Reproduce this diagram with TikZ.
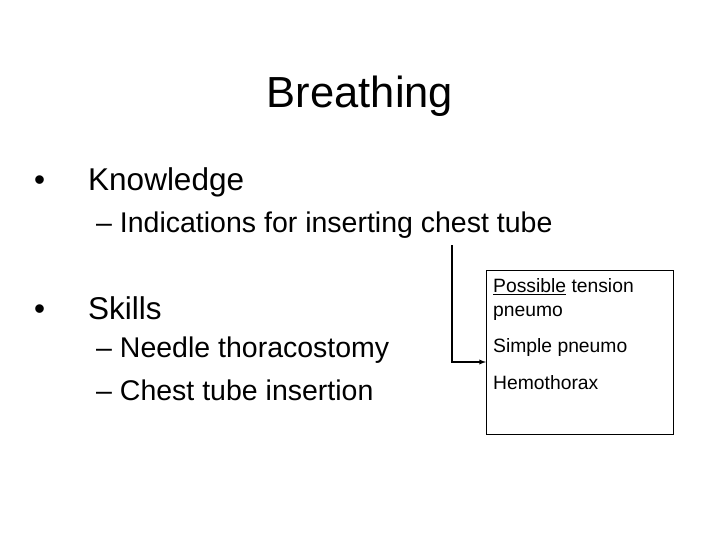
\documentclass[tikz,border=0pt]{standalone}
\usepackage{fontspec}
\setmainfont{Liberation Sans}
\begin{document}
\begin{tikzpicture}[x=1pt,y=-1pt,
  lvl1/.style={anchor=west,font=\fontsize{31.5}{34}\selectfont,inner sep=0},
  lvl2/.style={anchor=west,font=\fontsize{28.5}{31}\selectfont,inner sep=0},
  boxtxt/.style={anchor=west,font=\fontsize{19.3}{24}\selectfont,inner sep=0,align=left}]
\useasboundingbox (0,0) rectangle (720,540);
\node[font=\fontsize{43.5}{48}\selectfont,inner sep=0] (title) at (360,96) {Breathing};
\node[lvl1] (b1) at (34,182) {\textbullet\hspace{43pt}Knowledge};
\node[lvl2] (s1) at (96,225) {\textendash\ Indications for inserting chest tube};
\node[lvl1] (b2) at (34,308) {\textbullet\hspace{43pt}Skills};
\node[lvl2] (s2) at (96,350) {\textendash\ Needle thoracostomy};
\node[lvl2] (s3) at (96,390) {\textendash\ Chest tube insertion};
\draw[thin] (486,270) rectangle (673,434);
\coordinate (box) at (486,362);
\coordinate (top) at (452,245);
\node[boxtxt] (t1) at (493,300) {\underline{Possible} tension\\pneumo};
\node[boxtxt] (t2) at (493,348) {Simple pneumo};
\node[boxtxt] (t3) at (493,383) {Hemothorax};
\draw[line width=1.3pt,-latex] (top) |- (box);
\end{tikzpicture}
\end{document}
